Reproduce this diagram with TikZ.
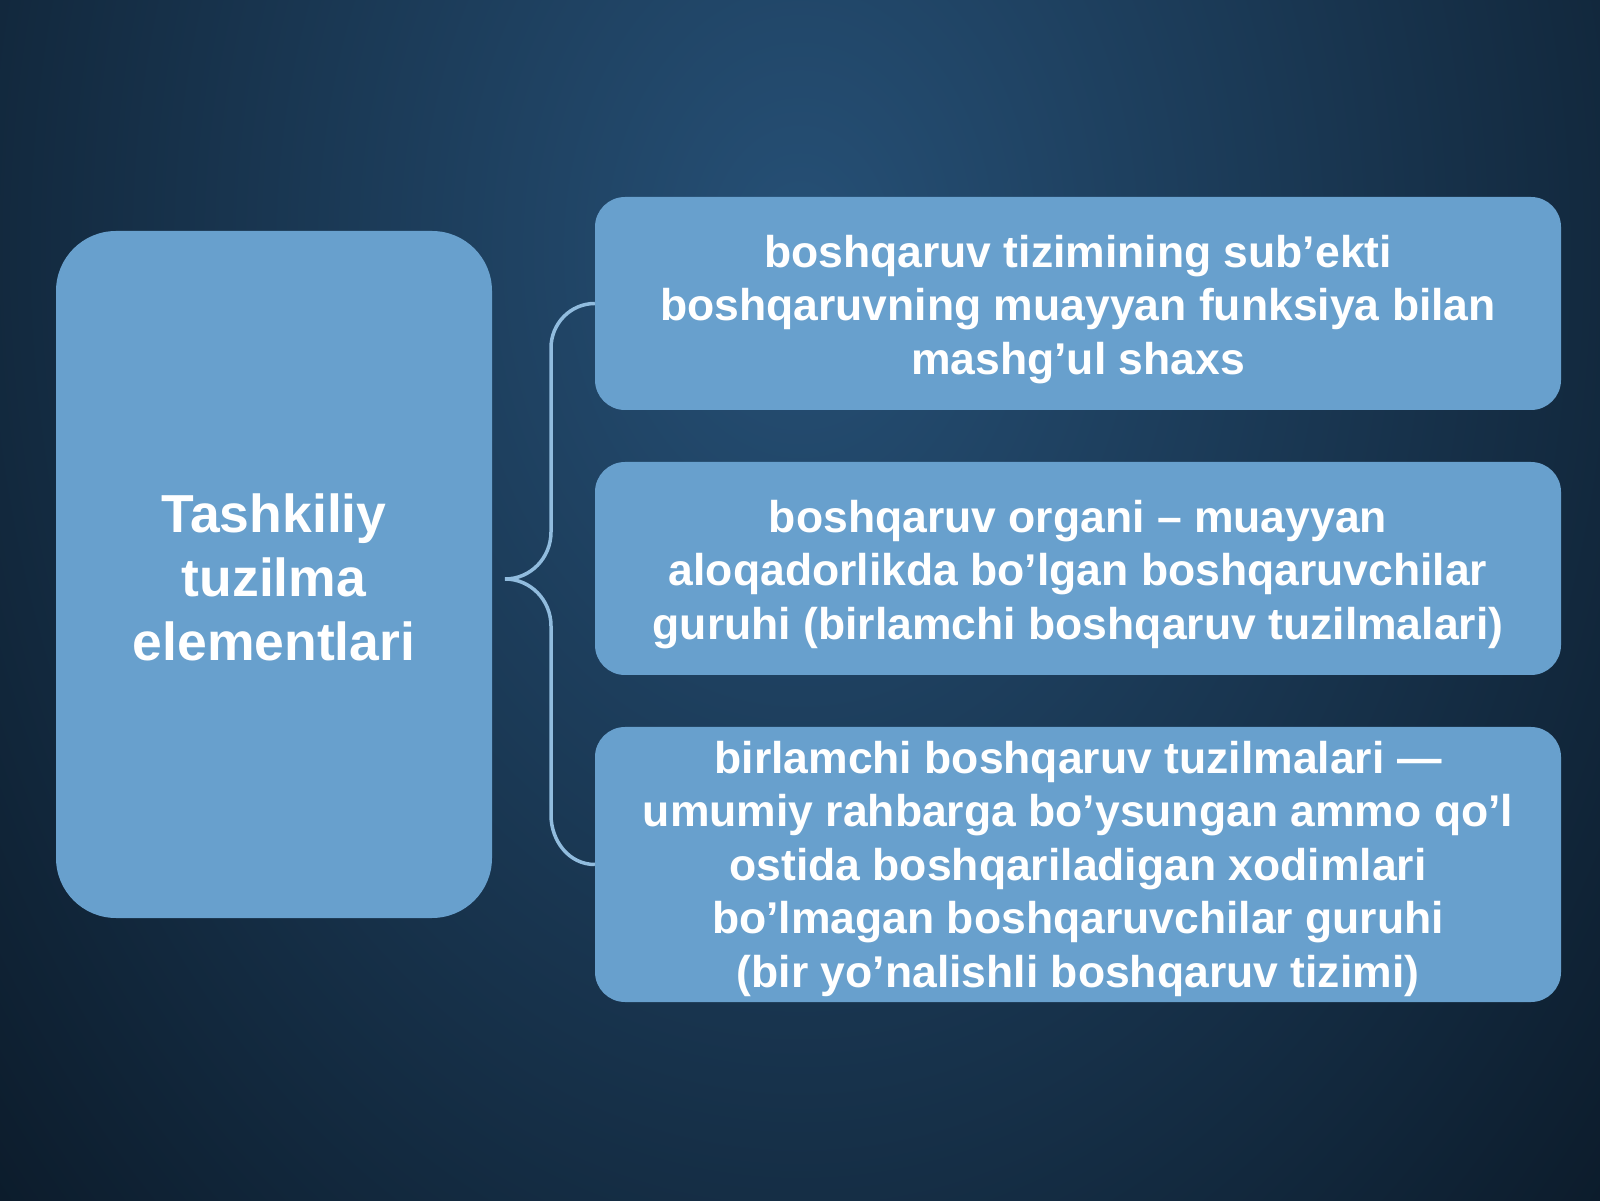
\documentclass[tikz,border=0pt]{standalone}
\usepackage{fontspec}
\setmainfont{Liberation Sans}
\begin{document}
\begin{tikzpicture}[x=1pt,y=1pt,
  boxR/.style={fill=boxblue, rounded corners=30pt, inner sep=0pt, minimum width=966pt},
  boxL/.style={fill=boxblue, rounded corners=60pt, inner sep=0pt, minimum width=436pt, minimum height=687pt},
  txtR/.style={text=white, font=\bfseries\fontsize{44.5}{53.5}\selectfont, align=center, inner sep=0pt},
  txtL/.style={text=white, font=\bfseries\fontsize{53.5}{64}\selectfont, align=center, inner sep=0pt},
  bracket/.style={draw=bracecol, line width=3.5pt}]
\definecolor{boxblue}{RGB}{104,160,205}
\definecolor{bracecol}{RGB}{145,188,222}
\definecolor{bgin}{RGB}{38,80,118}
\definecolor{bgout}{RGB}{10,24,38}
\useasboundingbox (0,0) rectangle (1600,1200);
\begin{scope}
\clip (0,0) rectangle (1600,1200);
\fill[bgout] (0,0) rectangle (1600,1200);
\shade[inner color=bgin, outer color=bgout] (800,950) ellipse (1150 and 1550);
\end{scope}
\node[boxL] (L) at (274,625.5) {};
\node[txtL] (Lt) at ([yshift=-3]L.center) {Tashkiliy\\tuzilma\\elementlari};
\node[boxR, minimum height=213pt] (A) at (1078,896.5) {};
\node[txtR] (At) at ([yshift=-6]A.center) {boshqaruv tizimining sub’ekti\\boshqaruvning muayyan funksiya bilan\\mashg’ul shaxs};
\node[boxR, minimum height=213pt] (B) at (1078,631.5) {};
\node[txtR] (Bt) at ([yshift=-6]B.center) {boshqaruv organi – muayyan\\aloqadorlikda bo’lgan boshqaruvchilar\\guruhi (birlamchi boshqaruv tuzilmalari)};
\node[boxR, minimum height=275pt] (C) at (1078,335.5) {};
\node[txtR] (Ct) at ([yshift=-4]C.center) {birlamchi boshqaruv tuzilmalari —\\umumiy rahbarga bo’ysungan ammo qo’l\\ostida boshqariladigan xodimlari\\bo’lmagan boshqaruvchilar guruhi\\(bir yo’nalishli boshqaruv tizimi)};
\coordinate (tip) at (505,621);
\draw[bracket] (A.west) to[out=180,in=90] (551,852) -- (551,668) to[out=-90,in=0] (tip)
  (tip) to[out=0,in=90] (551,574) -- (551,385) to[out=-90,in=180] (C.west);
\end{tikzpicture}
\end{document}
